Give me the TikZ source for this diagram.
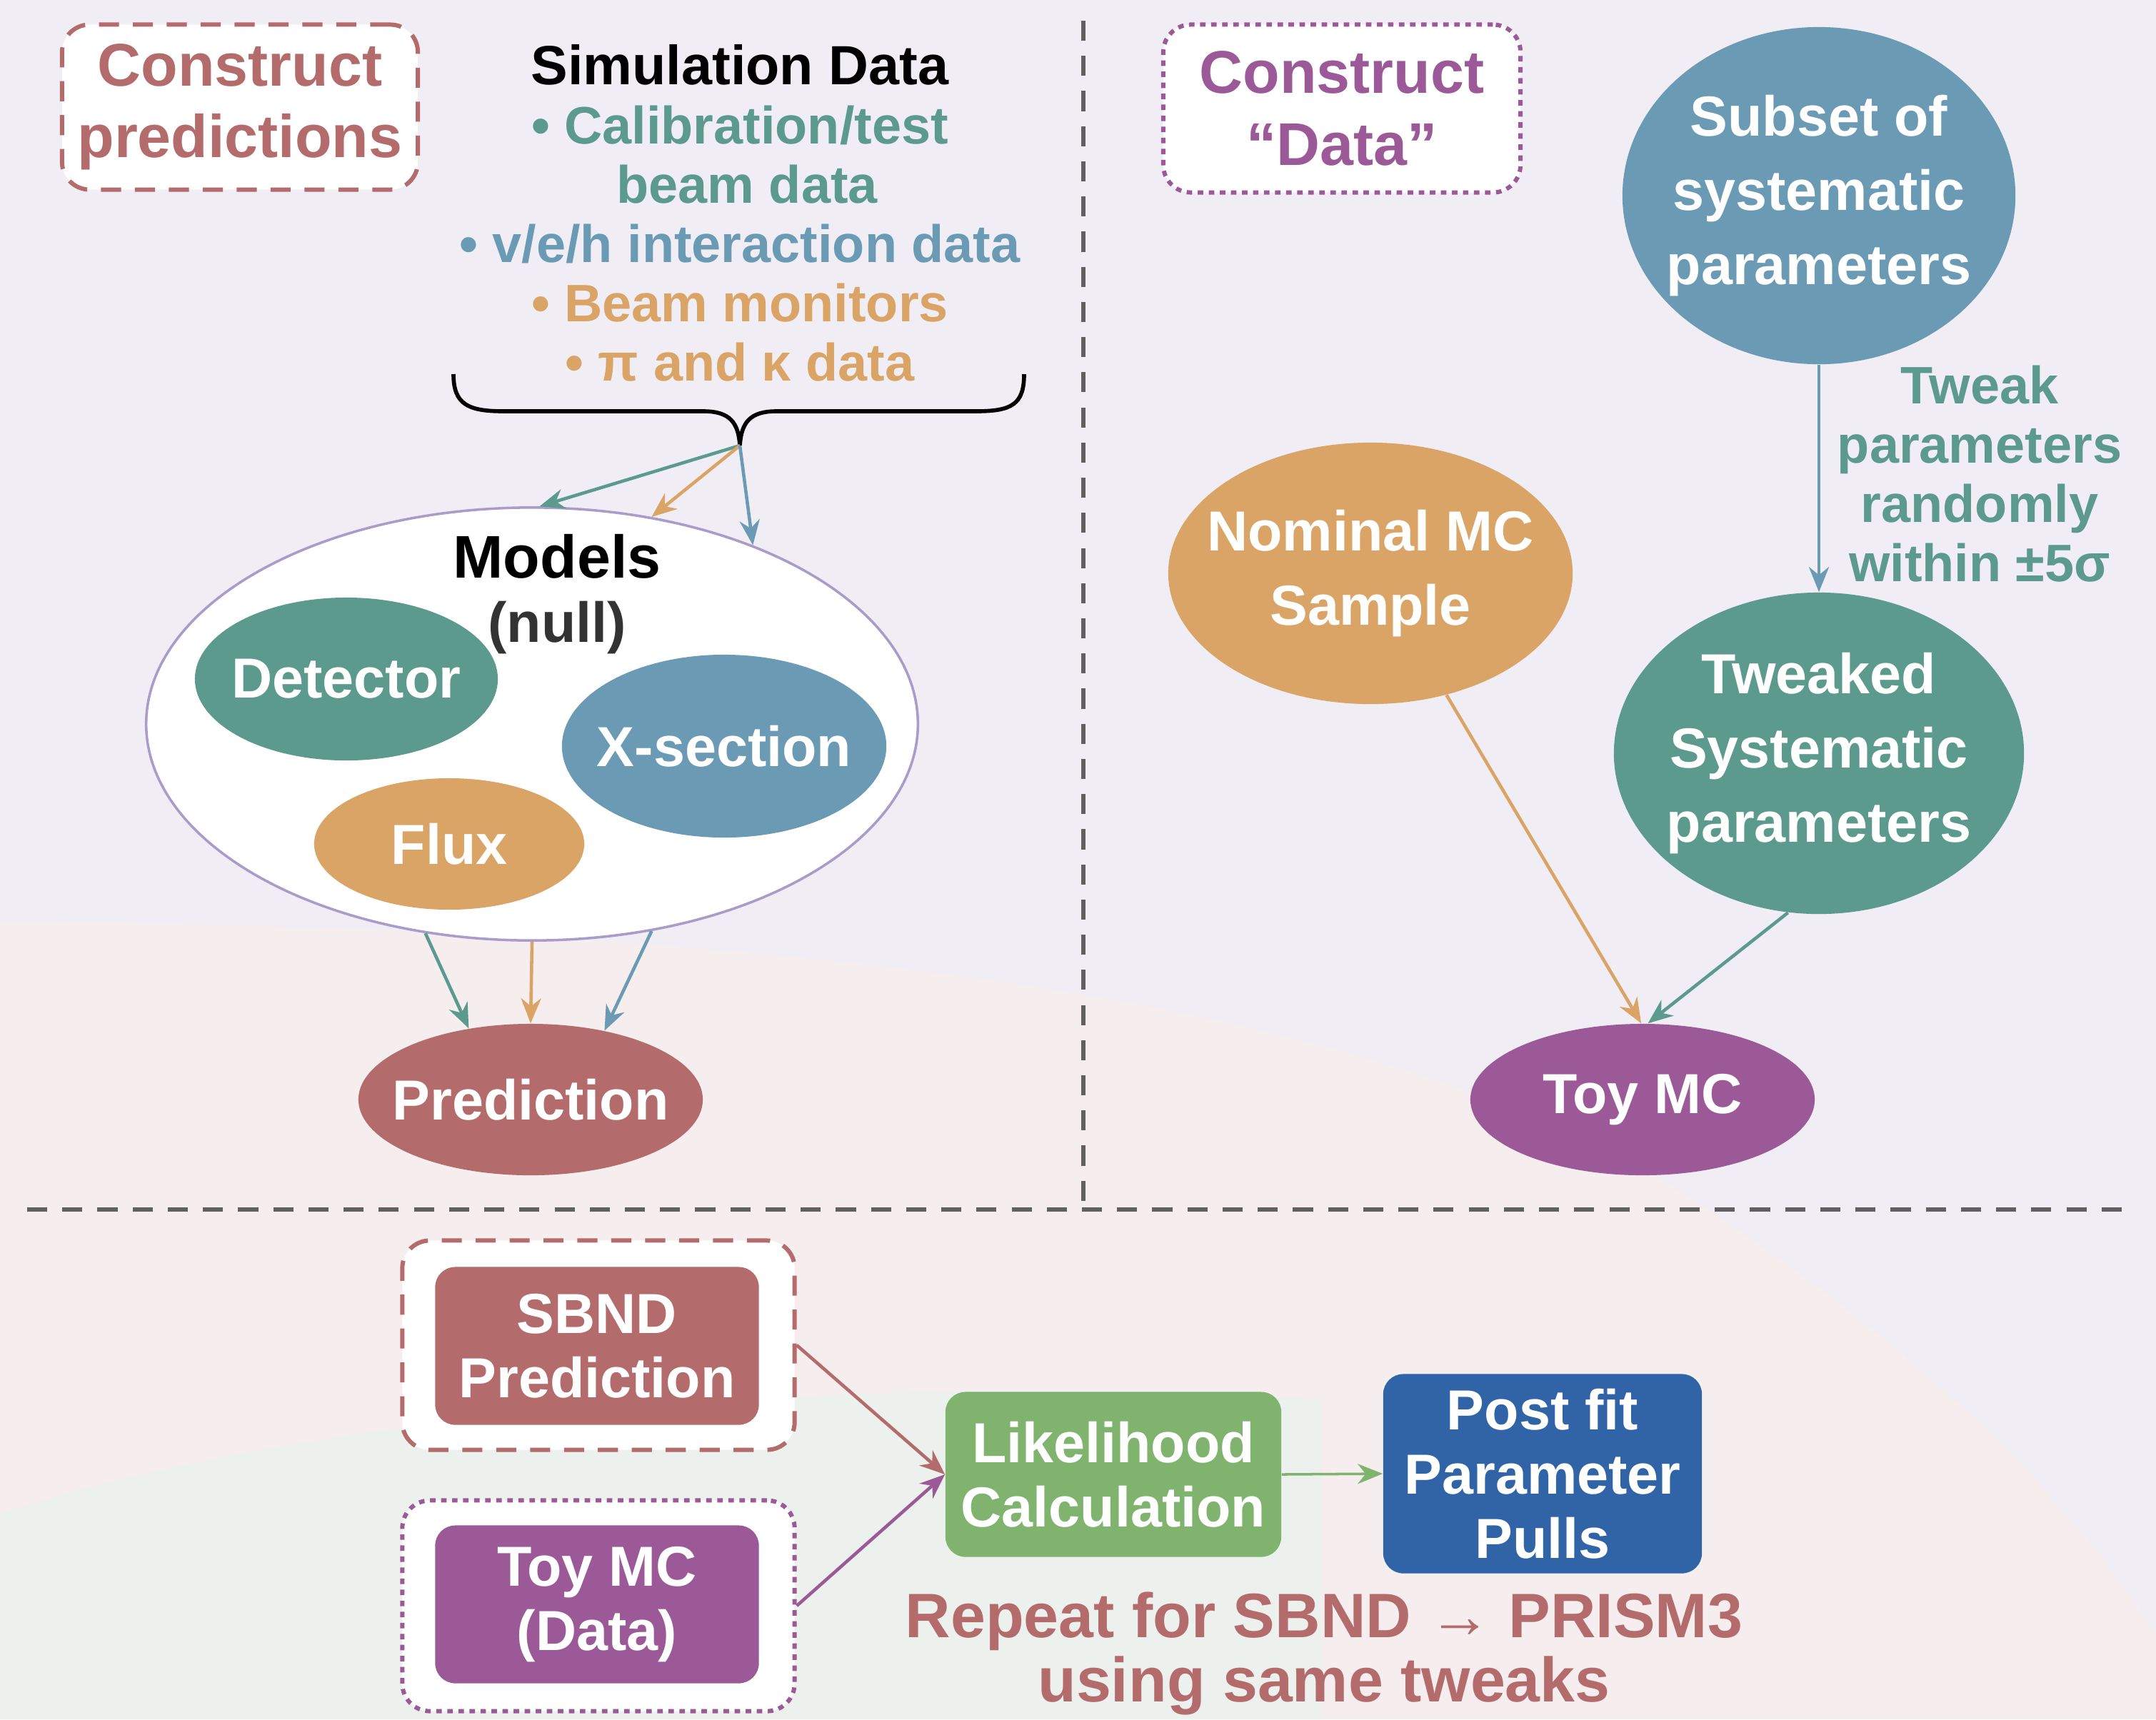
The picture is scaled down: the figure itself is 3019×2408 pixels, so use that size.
\documentclass[tikz,border=0pt]{standalone}
\usepackage{fontspec}
\setmainfont{Liberation Sans}
\usetikzlibrary{shapes.geometric,arrows.meta}
\definecolor{brick}{HTML}{B36B6B}
\definecolor{sysgreen}{HTML}{5B9A8D}
\definecolor{sysblue}{HTML}{6B9BB4}
\definecolor{sysorange}{HTML}{D9A465}
\definecolor{syspurple}{HTML}{9B5A97}
\definecolor{fitgreen}{HTML}{80B36E}
\definecolor{fitblue}{HTML}{3064A6}
\definecolor{lavender}{HTML}{A99CCB}
\definecolor{bglav}{HTML}{F0EEF4}
\definecolor{bgpink}{HTML}{F5EDEE}
\definecolor{bggreen}{HTML}{ECF1EE}
\tikzset{
 blob/.style={ellipse,fill=#1,text=white,inner sep=-1cm,align=center},
 tile/.style={rounded corners=8pt,fill=#1,text=white,inner sep=0pt,align=center},
 frame/.style={rounded corners=11pt,fill=white,draw=#1,line width=1.7pt,inner sep=0pt,align=center},
 arr/.style={draw=#1,line width=1.3pt,-{Stealth[length=10pt,width=8pt]}},
 big/.style={font=\bfseries\fontsize{22.5}{29.7}\selectfont},
 mid/.style={font=\bfseries\fontsize{22.5}{25.5}\selectfont},
 list/.style={font=\bfseries\fontsize{21}{23.6}\selectfont},
 title/.style={font=\bfseries\fontsize{24}{28.5}\selectfont}
}
\begin{document}
\begin{tikzpicture}[x=0.01cm,y=-0.01cm]
\useasboundingbox (0,0) rectangle (3019,2408);
\fill[bglav] (0,0) rectangle (3019,2408);
\fill[bgpink] (0,1290) .. controls (900,1300) and (1900,1350) .. (2400,1700)
 .. controls (2700,1900) and (2900,2100) .. (3019,2290) -- (3019,2408) -- (0,2408) -- cycle;
\fill[bggreen] (0,2120) .. controls (500,1960) and (1200,1930) .. (1850,1960)
 -- (1850,2408) -- (0,2408) -- cycle;
\draw[gray!75!black,line width=1.5pt,dash pattern=on 8pt off 6pt] (1517,29) -- (1517,1694) (38,1694) -- (2984,1694);
% left half
\node[frame=brick,dashed,dash pattern=on 8pt off 5.5pt,text=brick,title,minimum width=4.98cm,minimum height=2.31cm] (predtitle) at (336,150) {Construct\\predictions};
\node[list,align=center] (simdata) at (1036,298) {{\fontsize{22}{23.6}\selectfont Simulation Data}\\
 \textcolor{sysgreen}{• Calibration/test}\\ \textcolor{sysgreen}{\ beam data}\\
 \textcolor{sysblue}{• v/e/h interaction data}\\ \textcolor{sysorange}{• Beam monitors}\\
 \textcolor{sysorange}{• π and κ data}};
\coordinate (bracetip) at (1036,624);
\draw[line width=1.6pt] (635,524) .. controls (635,566) and (655,576) .. (705,576) -- (985,576)
 .. controls (1022,576) and (1034,592) .. (bracetip) .. controls (1038,592) and (1050,576) .. (1087,576)
 -- (1367,576) .. controls (1417,576) and (1434,566) .. (1434,524);
\node[ellipse,fill=white,draw=lavender,line width=1pt,minimum width=10.8cm,minimum height=6.06cm] (models) at (745,1014) {};
\node[mid,align=center] (modelsname) at (780,832) {{\fontsize{24}{26}\selectfont Models}\\ \textcolor{black!80}{(null)}};
\node[blob=sysgreen,mid,minimum width=4.24cm,minimum height=2.28cm] (detector) at (485,951) {Detector};
\node[blob=sysblue,mid,minimum width=4.54cm,minimum height=2.56cm] (xsec) at (1014,1045) {X-section};
\node[blob=sysorange,mid,minimum width=3.78cm,minimum height=1.84cm] (flux) at (629,1182) {Flux};
\node[blob=brick,mid,minimum width=4.82cm,minimum height=2.12cm] (prediction) at (743,1540) {Prediction};
\draw[arr=sysgreen] (bracetip) -- (models.88);
\draw[arr=sysorange] (bracetip) -- (models.60);
\draw[arr=sysblue] (bracetip) -- (models.39);
\draw[arr=sysgreen] (models.243) -- (prediction.131);
\draw[arr=sysorange] (models.south) -- (prediction.north);
\draw[arr=sysblue] (models.300) -- (prediction.43);
% right half
\node[frame=syspurple,dotted,dash pattern=on 2.2pt off 2.2pt,text=syspurple,title,minimum width=5cm,minimum height=2.35cm] (datatitle) at (1879,152) {Construct\\“Data”};
\node[blob=sysblue,big,minimum width=5.5cm,minimum height=4.72cm] (subset) at (2547,274) {Subset of\\systematic\\parameters};
\node[blob=sysorange,big,minimum width=5.66cm,minimum height=3.66cm] (nominal) at (1919,803) {Nominal MC\\Sample};
\node[blob=sysgreen,big,minimum width=5.74cm,minimum height=4.5cm] (tweaked) at (2547,1055) {Tweaked\\Systematic\\parameters};
\node[blob=syspurple,mid,minimum width=4.82cm,minimum height=2.12cm] (toymc) at (2300,1540) {Toy MC};
\node[list,text=sysgreen,align=center] (tweaktext) at (2772,664) {Tweak\\parameters\\randomly\\within ±5σ};
\draw[arr=sysblue] (subset.south) -- (tweaked.north);
\draw[arr=sysorange] (nominal.302) -- (toymc.91);
\draw[arr=sysgreen] (tweaked.259) -- (toymc.86);
% bottom
\node[frame=brick,dashed,dash pattern=on 8pt off 5.5pt,minimum width=5.49cm,minimum height=2.93cm] (sbndframe) at (838,1884) {};
\node[tile=brick,mid,minimum width=4.53cm,minimum height=2.21cm] (sbnd) at (836,1885) {SBND\\Prediction};
\node[frame=syspurple,dotted,dash pattern=on 2.2pt off 2.2pt,minimum width=5.49cm,minimum height=2.95cm] (toyframe) at (838,2249) {};
\node[tile=syspurple,mid,minimum width=4.53cm,minimum height=2.21cm] (toydata) at (836,2247) {Toy MC\\(Data)};
\node[tile=fitgreen,mid,minimum width=4.7cm,minimum height=2.31cm] (likelihood) at (1559,2065) {Likelihood\\Calculation};
\node[tile=fitblue,mid,minimum width=4.46cm,minimum height=2.79cm] (postfit) at (2160,2064) {Post fit\\Parameter\\Pulls};
\node[text=brick,align=center,font=\bfseries\fontsize{25}{25.5}\selectfont] (repeat) at (1854,2316) {Repeat for SBND → PRISM3\\using same tweaks};
\draw[arr=brick] (sbndframe.east) -- (likelihood.west);
\draw[arr=syspurple] (toyframe.east) -- (likelihood.west);
\draw[arr=fitgreen,line width=1pt] (likelihood.east) -- (postfit.west);
\end{tikzpicture}
\end{document}
